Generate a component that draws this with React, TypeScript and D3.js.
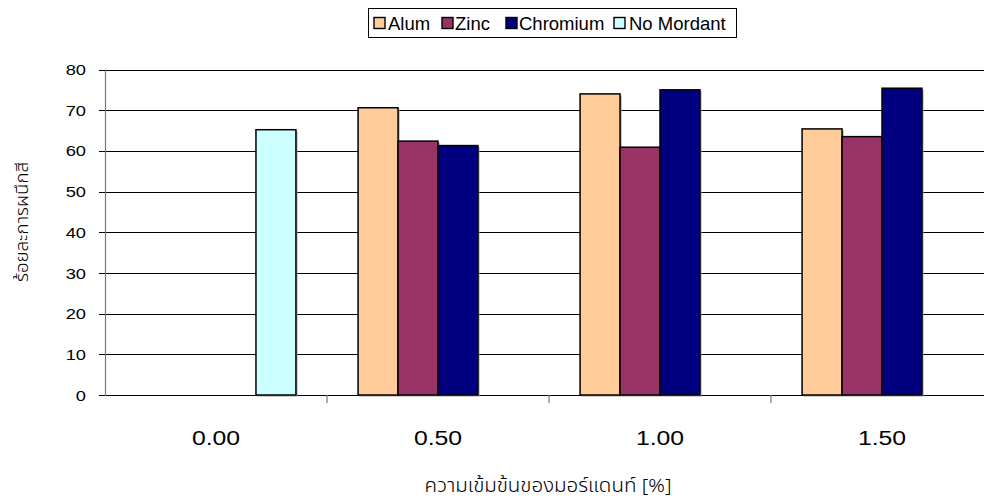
import React from "react";
import * as d3 from "d3";

const categories = ["0.00", "0.50", "1.00", "1.50"];
const seriesNames = ["Alum", "Zinc", "Chromium", "No Mordant"];
const alum = [null, 70.6, 74.0, 65.4];
const zinc = [null, 62.4, 60.9, 63.5];
const chromium = [null, 61.3, 75.0, 75.4];
const noMordant = [65.2, null, null, null];
const yTicks = [0, 10, 20, 30, 40, 50, 60, 70, 80];
const colors = ["#FFCC99", "#993366", "#000080", "#CCFFFF"];

const W = 984;
const H = 501;
const plotLeft = 105;
const plotRight = 993;
const plotTop = 69.5;
const plotBottom = 395;
const FONT = "'Liberation Sans', Arial, sans-serif";
const THAI = "'Noto Sans Thai', 'Noto Sans', sans-serif";
const SX = 1.18; // horizontal stretch of the text

export default function App() {
  const series = [alum, zinc, chromium, noMordant];
  const padInner = 0.28;
  const x = d3
    .scaleBand<string>()
    .domain(categories)
    .range([plotLeft, plotRight])
    .paddingInner(padInner)
    .paddingOuter(padInner / 2);
  const xs = d3
    .scaleBand<string>()
    .domain(seriesNames)
    .range([0, x.bandwidth()]);
  const y = d3.scaleLinear().domain([0, 80]).range([plotBottom, plotTop]);
  const step = x.step();
  const catEdges = categories.map((c) => (x(c) as number) - (padInner * step) / 2);

  const legendItems = [
    { name: "Alum", sx: 374, tx: 388 },
    { name: "Zinc", sx: 442, tx: 455 },
    { name: "Chromium", sx: 506, tx: 519 },
    { name: "No Mordant", sx: 614, tx: 629 },
  ];

  return (
    <svg
      width={W}
      height={H}
      style={{ position: "absolute", left: 0, top: 0, background: "#fff" }}
    >
      {/* horizontal gridlines */}
      {yTicks.map((t) => (
        <line
          key={"g" + t}
          x1={plotLeft}
          x2={plotRight}
          y1={Math.round(y(t)) + 0.5}
          y2={Math.round(y(t)) + 0.5}
          stroke="#000"
          strokeWidth={1}
        />
      ))}
      {/* y axis */}
      <line x1={plotLeft + 0.5} x2={plotLeft + 0.5} y1={plotTop} y2={plotBottom + 1} stroke="#777" strokeWidth={1.2} />
      {yTicks.map((t) => (
        <g key={"yt" + t}>
          <line
            x1={plotLeft - 6}
            x2={plotLeft}
            y1={Math.round(y(t)) + 0.5}
            y2={Math.round(y(t)) + 0.5}
            stroke="#000"
          />
          <text
            transform={`translate(86, ${y(t)}) scale(${SX}, 1)`}
            dy="0.36em"
            textAnchor="end"
            fontFamily={FONT}
            fontSize={15.5}
            fill="#000"
          >
            {t}
          </text>
        </g>
      ))}
      {/* x axis ticks at category boundaries */}
      {catEdges.slice(1).map((e, i) => (
        <line key={"xt" + i} x1={e} x2={e} y1={plotBottom} y2={plotBottom + 8} stroke="#777" strokeWidth={1.2} />
      ))}
      {categories.map((c) => (
        <text
          key={"xl" + c}
          transform={`translate(${(x(c) as number) + x.bandwidth() / 2}, 445) scale(${SX}, 1)`}
          textAnchor="middle"
          fontFamily={FONT}
          fontSize={21}
          fill="#000"
        >
          {c}
        </text>
      ))}
      {/* bars */}
      {series.map((vals, si) =>
        vals.map((v, ci) => {
          if (v === null) return null;
          const bx = (x(categories[ci]) as number) + (xs(seriesNames[si]) as number);
          const top = y(v);
          return (
            <g key={`b${si}-${ci}`}>
              <rect
                x={bx + 1.5}
                y={top + 1.5}
                width={xs.bandwidth()}
                height={plotBottom - top}
                fill="#999"
              />
              <rect
                x={bx}
                y={top}
                width={xs.bandwidth()}
                height={plotBottom - top}
                fill={colors[si]}
                stroke="#000"
                strokeWidth={1.5}
              />
            </g>
          );
        })
      )}
      {/* legend */}
      <rect x={368.5} y={8.5} width={368} height={29} fill="#fff" stroke="#000" strokeWidth={1} />
      {legendItems.map((it, i) => (
        <g key={"lg" + it.name}>
          <rect x={it.sx} y={17.5} width={11} height={11} fill={colors[i]} stroke="#000" strokeWidth={1.4} />
          <text x={it.tx} y={23.5} dy="0.36em" fontFamily={FONT} fontSize={18.5} fill="#000">
            {it.name}
          </text>
        </g>
      ))}
      {/* axis titles */}
      <text
        transform={`translate(28, 222) rotate(-90) scale(1.1, 1)`}
        textAnchor="middle"
        fontSize={17}
        fontFamily={THAI}
        fontWeight={300}
        fill="#000"
      >
        ร้อยละการผนึกสี
      </text>
      <text
        transform={`translate(548, 492) scale(1.08, 1)`}
        textAnchor="middle"
        fontSize={19}
        fontFamily={THAI}
        fontWeight={300}
        fill="#000"
      >
        ความเข้มข้นของมอร์แดนท์ [%]
      </text>
    </svg>
  );
}
